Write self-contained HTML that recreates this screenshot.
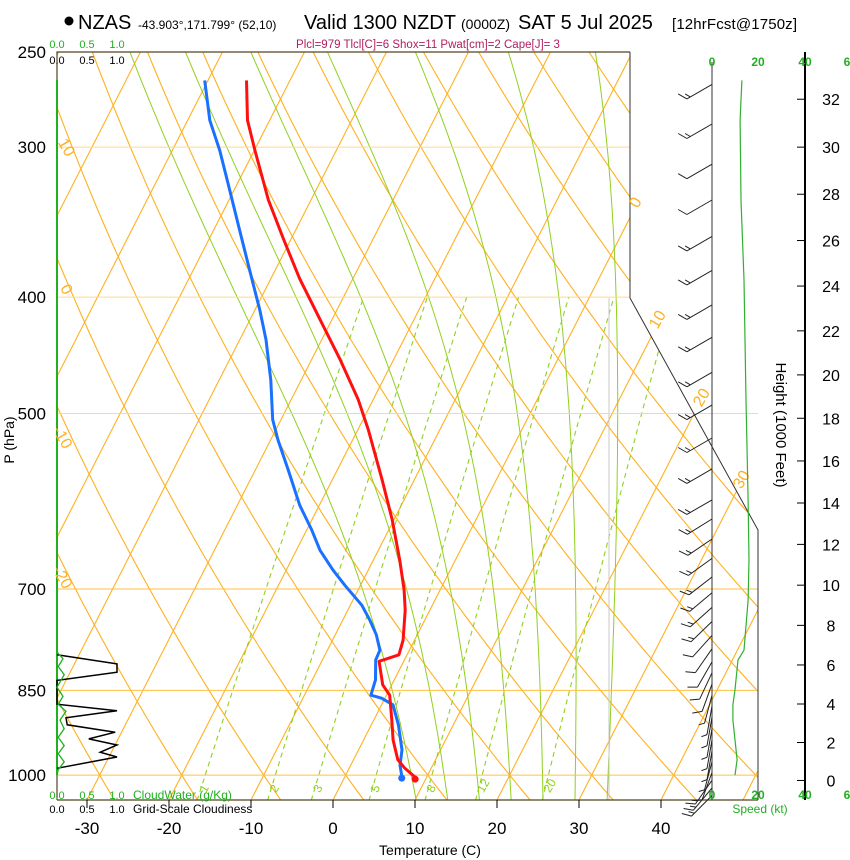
<!DOCTYPE html>
<html><head><meta charset="utf-8">
<style>
body{margin:0;background:#fff;}
svg{display:block;font-family:"Liberation Sans",sans-serif;}
</style></head>
<body>
<div style="position:relative;width:850px;height:860px;">
<svg id="chart" width="850" height="860" viewBox="0 0 850 860" xmlns="http://www.w3.org/2000/svg" style="position:absolute;left:0;top:0">
<defs>
<clipPath id="plotclip"><polygon points="57,52 630,52 630,298 758,530 758,800 57,800"/></clipPath>
</defs>
<g>
<circle cx="69" cy="21" r="4.5" fill="#000"/>
<text x="78" y="29" font-size="20">NZAS</text>
<text x="138" y="29" font-size="12">-43.903°,171.799° (52,10)</text>
<text x="304" y="29" font-size="20">Valid 1300 NZDT</text>
<text x="461" y="29" font-size="14">(0000Z)</text>
<text x="518" y="29" font-size="20">SAT 5 Jul 2025</text>
<text x="672" y="29" font-size="15" textLength="125">[12hrFcst@1750z]</text>
<text x="428" y="48" font-size="11.5" fill="#b02060" text-anchor="middle">Plcl=979 Tlcl[C]=6 Shox=11 Pwat[cm]=2 Cape[J]= 3</text>
</g>
<g id="bg" clip-path="url(#plotclip)"></g>
<g id="fg"></g>
<g font-family="Liberation Sans, sans-serif">
<text x="57" y="48" font-size="11" fill="#20b020" text-anchor="middle">0.0</text>
<text x="87" y="48" font-size="11" fill="#20b020" text-anchor="middle">0.5</text>
<text x="117" y="48" font-size="11" fill="#20b020" text-anchor="middle">1.0</text>
<text x="57" y="64" font-size="11" text-anchor="middle">0.0</text>
<text x="87" y="64" font-size="11" text-anchor="middle">0.5</text>
<text x="117" y="64" font-size="11" text-anchor="middle">1.0</text>
<text x="57" y="799" font-size="11" fill="#20b020" text-anchor="middle">0.0</text>
<text x="87" y="799" font-size="11" fill="#20b020" text-anchor="middle">0.5</text>
<text x="117" y="799" font-size="11" fill="#20b020" text-anchor="middle">1.0</text>
<text x="133" y="799" font-size="12" fill="#20b020">CloudWater (g/Kg)</text>
<text x="57" y="813" font-size="11" text-anchor="middle">0.0</text>
<text x="87" y="813" font-size="11" text-anchor="middle">0.5</text>
<text x="117" y="813" font-size="11" text-anchor="middle">1.0</text>
<text x="133" y="813" font-size="12">Grid-Scale Cloudiness</text>
<text x="712" y="66" font-size="12" fill="#20b020" text-anchor="middle" font-weight="bold">0</text>
<text x="758" y="66" font-size="12" fill="#20b020" text-anchor="middle" font-weight="bold">20</text>
<text x="805" y="66" font-size="12" fill="#20b020" text-anchor="middle" font-weight="bold">40</text>
<text x="847" y="66" font-size="12" fill="#20b020" text-anchor="middle" font-weight="bold">6</text>
<text x="712" y="799" font-size="12" fill="#20b020" text-anchor="middle" font-weight="bold">0</text>
<text x="758" y="799" font-size="12" fill="#20b020" text-anchor="middle" font-weight="bold">20</text>
<text x="805" y="799" font-size="12" fill="#20b020" text-anchor="middle" font-weight="bold">40</text>
<text x="847" y="799" font-size="12" fill="#20b020" text-anchor="middle" font-weight="bold">6</text>
<text x="760" y="813" font-size="12" fill="#20b020" text-anchor="middle">Speed (kt)</text>
<text x="430" y="855" font-size="14" text-anchor="middle">Temperature (C)</text>
<text x="14" y="440" font-size="14" text-anchor="middle" transform="rotate(-90 14 440)">P (hPa)</text>
<text x="776" y="425" font-size="15" text-anchor="middle" transform="rotate(90 776 425)">Height (1000 Feet)</text>
</g>
</svg>
</div>
<script>
// ---- data ----
const tempP = [1004,987,971,935,900,858,841,804,794,772,729,701,662,613,568,516,487,451,418,386,358,332,302,285,264];
const tempT = [8.6,6.8,5.4,3.6,2.2,0.4,-1.1,-3.0,-1.0,-1.4,-3.0,-4.4,-6.8,-10.2,-13.9,-18.7,-21.8,-26.5,-31.4,-36.5,-40.9,-45.2,-49.9,-52.7,-55.3];
const dewP = [1002,981,953,908,874,863,858,833,802,787,764,743,722,695,675,650,625,596,557,526,506,469,434,410,380,352,326,302,285,264];
const dewT = [6.9,6.0,5.3,3.3,1.4,-0.4,-1.9,-2.3,-3.5,-3.6,-5.0,-6.7,-8.6,-11.9,-14.3,-17.1,-19.4,-22.4,-26.0,-29.1,-31.0,-33.7,-36.8,-39.4,-43.1,-46.8,-50.5,-54.2,-57.3,-60.4];
const speedP = [264,285,332,387,487,590,662,715,787,802,849,874,900,935,971,1000];
const speedKt = [13.0,12.2,12.6,13.9,14.8,15.7,16.1,15.7,13.9,11.3,10.0,9.1,9.1,10.0,10.9,10.0];
const barbP = [266,287,310,332,356,380,406,432,462,492,524,556,590,612,636,660,684,705,725,745,765,785,805,822,840,858,876,895,915,935,955,975,995,1010,1025,1040];
const barbSpd = [15,15,10,10,15,15,15,15,15,15,15,15,15,15,15,15,15,15,15,15,10,10,10,10,10,5,5,5,5,5,5,5,5,15,15,15];
const barbDir = [240,240,240,240,240,240,240,240,240,240,240,240,240,238,236,234,232,230,228,226,222,215,210,205,200,195,190,190,190,190,190,195,200,215,220,225];
const cloudP = [794,808,821,834,873,884,896,908,921,933,944,957,966,987];
const cloudFrac = [0,1.0,1.0,0,0,1.0,0.15,0.17,0.97,0.53,1.0,0.72,1.0,0];
const cwP = [790,800,812,825,845,860,873,885,900,915,930,945,960,975,990,1000];
const cwVal = [0,0.1,0.02,0.12,0.0,0.1,0.02,0.15,0.05,0.12,0.02,0.12,0.02,0.12,0.02,0];
const pressTicks = [250,300,400,500,700,850,1000];
const tempTicks = [-30,-20,-10,0,10,20,30,40];
const heightTicks = [0,2,4,6,8,10,12,14,16,18,20,22,24,26,28,30,32];
const mixRatios = [1,2,3,5,8,12,20];
const moistStart = [8,12,16,20,24,28,32];
// ---- axes ----
const NS="http://www.w3.org/2000/svg";
function Y(p){return 52+521.6*Math.log(p/250);}
function X(T,p){return 333+8.2*T+0.51*(800-Y(p));}
function SX(kt){return 712+2.3*kt;}
function CX(v){return 57+60*v;}
function HP(kft){return 1013.25*Math.pow(1-6.8756e-6*kft*1000,5.2559);}
const bg=document.getElementById('bg'), fg=document.getElementById('fg');
function el(tag,attrs,parent){const e=document.createElementNS(NS,tag);for(const k in attrs)e.setAttribute(k,attrs[k]);parent.appendChild(e);return e;}
function pathFrom(pts){return pts.map((q,i)=>(i?'L':'M')+q[0].toFixed(1)+','+q[1].toFixed(1)).join('');}
// isotherms
for(let T=-130;T<=50;T+=10){
  const e=el('line',{x1:X(T,1060),y1:Y(1060),x2:X(T,240),y2:Y(240),stroke:'#ffb020','stroke-width':1.1},bg);
  
  
}
// dry adiabats
for(let k=-8;k<=18;k++){
  const th=273.15+10*k;const pts=[];
  for(let p=1060;p>=240;p-=10){pts.push([X(th*Math.pow(p/1000,0.2857)-273.15,p),Y(p)]);}
  const e=el('path',{d:pathFrom(pts),fill:'none',stroke:'#ffb020','stroke-width':1.1},bg);
  
  
}
// moist adiabats
function es(T){return 6.112*Math.exp(17.67*T/(T+243.5));}
moistStart.forEach(T0=>{
  let T=T0+273.15, p=1000; const up=[], dn=[];
  const step=(T,p,dp)=>{const rs=0.622*es(T-273.15)/(p-es(T-273.15));const L=2.5e6,Rd=287,cp=1004;
    const dTdp=(Rd*T+L*rs)/(p*(cp+L*L*rs*0.622/(Rd*T*T)));return T+dTdp*dp;};
  up.push([X(T-273.15,p),Y(p)]);
  while(p>240){T=step(T,p,-5);p-=5;up.push([X(T-273.15,p),Y(p)]);}
  T=T0+273.15;p=1000;
  while(p<1060){T=step(T,p,5);p+=5;dn.push([X(T-273.15,p),Y(p)]);}
  const e=el('path',{d:pathFrom(dn.reverse().concat(up)),fill:'none',stroke:'#90d020','stroke-width':1},bg);
  
  
});
// mixing ratio lines
mixRatios.forEach(w=>{
  const pts=[];
  for(let p=1050;p>=400;p-=10){const e=w*p/(622+w);const l=Math.log(e/6.112);pts.push([X(243.5*l/(17.67-l),p),Y(p)]);}
  const e=el('path',{d:pathFrom(pts),fill:'none',stroke:'#90d020','stroke-width':1.1,'stroke-dasharray':'5,4'},bg);
  
  
  const q=pts[3];
  const t=el('text',{x:q[0]+4,y:q[1]+8,'font-size':12,fill:'#90d020',transform:`rotate(-60 ${q[0]+4} ${q[1]+8})`},bg);
  t.textContent=w;
  
  
});
// grey vertical
el('line',{x1:609,y1:298,x2:609,y2:800,stroke:'#c8c8c8','stroke-width':1},bg);
// horizontal pressure lines
[300,400,500,700,850,1000].forEach(p=>{
  const e=el('line',{x1:57,y1:Y(p),x2:p<450?630:758,y2:Y(p),stroke:p<600?'#ffd890':'#ffc040','stroke-width':1},fg);
  
  
});
// frame
el('polyline',{points:'57,800 57,52 630,52',fill:'none',stroke:'#554422','stroke-width':1.2},fg);
el('polyline',{points:'630,52 630,298 758,530 758,800',fill:'none',stroke:'#333','stroke-width':1},fg);
el('line',{x1:57,y1:800,x2:758,y2:800,stroke:'#554422','stroke-width':1.3},fg);
el('line',{x1:712,y1:62,x2:712,y2:800,stroke:'#333','stroke-width':1},fg);
el('line',{x1:57,y1:80,x2:57,y2:775,stroke:'#20b020','stroke-width':2},fg);
// isotherm/adiabat labels
[['0',640,205,-60],['10',662,322,-60],['20',706,400,-60],['30',746,482,-60],['10',62,150,60],['0',62,292,60],['-10',58,440,60],['-20',58,580,60]].forEach(a=>{
  const t=el('text',{x:a[1],y:a[2],'font-size':16,fill:'#ffb020','text-anchor':'middle',transform:`rotate(${a[3]} ${a[1]} ${a[2]})`},fg);
  t.textContent=a[0];
  
  
});
// cloud panels
{const pts=cloudP.map((p,i)=>[CX(cloudFrac[i]),Y(p)]);
 const e=el('path',{d:pathFrom(pts),fill:'none',stroke:'#000','stroke-width':1.5},fg);
 
 
 const pts2=cwP.map((p,i)=>[CX(cwVal[i]),Y(p)]);
 const e2=el('path',{d:pathFrom(pts2),fill:'none',stroke:'#20b020','stroke-width':1.3},fg);
 
 }
// profiles
function profile(P,T,color,name){
  const pts=P.map((p,i)=>[X(T[i],p),Y(p)]);
  const e=el('path',{d:pathFrom(pts),fill:'none',stroke:color,'stroke-width':3,'stroke-linejoin':'round'},fg);
  
  
  const c=el('circle',{cx:pts[0][0],cy:pts[0][1]+2,r:3.5,fill:color},fg);
  
  
}
profile(dewP,dewT,'#1a70ff','dewpoint-profile');
profile(tempP,tempT,'#ff1010','temperature-profile');
// wind speed profile
{const pts=speedP.map((p,i)=>[SX(speedKt[i]),Y(p)]);
 const e=el('path',{d:pathFrom(pts),fill:'none',stroke:'#30b030','stroke-width':1.2},fg);
 
 }
// wind barbs
barbP.forEach((p,i)=>{
  const y=Y(p);const r=barbDir[i]*Math.PI/180;
  const ux=Math.sin(r), uy=-Math.cos(r);
  const L=29;const x2=712+ux*L, y2=y+uy*L;
  const g=el('g',{},fg);
  
  
  let d=`M712,${y.toFixed(1)}L${x2.toFixed(1)},${y2.toFixed(1)}`;
  const ca=Math.cos(Math.PI/3),sa=Math.sin(Math.PI/3);
  const bx=ux*ca-uy*sa, by=ux*sa+uy*ca;
  let s=barbSpd[i],pos=0;
  while(s>=10){const px=x2-ux*pos,py=y2-uy*pos;d+=`M${px.toFixed(1)},${py.toFixed(1)}l${(bx*10).toFixed(1)},${(by*10).toFixed(1)}`;s-=10;pos+=4;}
  if(s>=5){const px=x2-ux*pos,py=y2-uy*pos;d+=`M${px.toFixed(1)},${py.toFixed(1)}l${(bx*6).toFixed(1)},${(by*6).toFixed(1)}`;}
  el('path',{d:d,fill:'none',stroke:'#222','stroke-width':1},g);
});
// pressure tick labels
pressTicks.forEach(p=>{
  const t=el('text',{x:46,y:Y(p)+6,'font-size':17,'text-anchor':'end'},fg);
  t.textContent=p;
  
  
});
// temp ticks
tempTicks.forEach(T=>{
  const x=333+8.2*T;
  el('line',{x1:x,y1:800,x2:x,y2:808,stroke:'#000'},fg);
  const t=el('text',{x:x,y:834,'font-size':17,'text-anchor':'middle'},fg);
  t.textContent=T;
  
  
});
// height axis
el('line',{x1:805,y1:52,x2:805,y2:800,stroke:'#000','stroke-width':2},fg);
heightTicks.forEach(h=>{
  const y=Y(HP(h))-1.5;
  el('line',{x1:797,y1:y,x2:805,y2:y,stroke:'#000'},fg);
  const t=el('text',{x:831,y:y+6,'font-size':16,'text-anchor':'middle'},fg);
  t.textContent=h;
  
  
});
</script>
</body></html>
